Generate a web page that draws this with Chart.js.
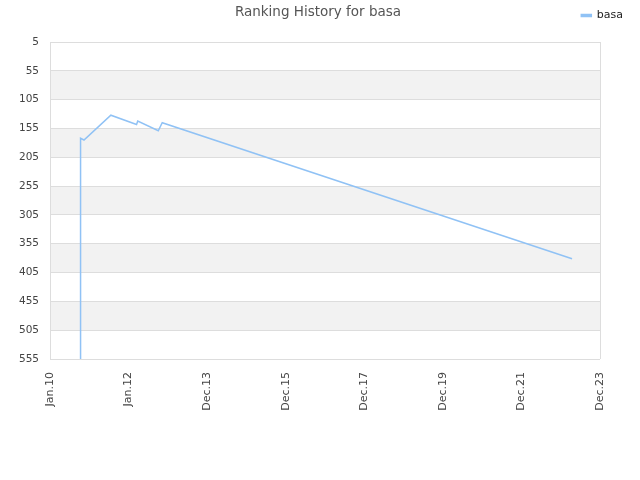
<!DOCTYPE html>
<html>
<head>
<meta charset="utf-8">
<script src="https://cdn.jsdelivr.net/npm/chart.js@4"></script>
<style>
  html, body { margin: 0; padding: 0; background: #fff; }
  #wrap { width: 640px; height: 480px; }
</style>
</head>
<body>
<div id="wrap"><canvas id="rankChart"></canvas></div>
<script>
const seriesName = 'basa';
// dates as decimal years, rank values
const years = [2010.76, 2010.76, 2010.78, 2010.78, 2010.86, 2011.54, 2012.19, 2012.22, 2012.74, 2012.84, 2023.21];
const ranks = [555, 218, 218, 172, 175, 132, 148, 142, 159, 145, 381];
const xTickLabels = ['Jan.10', 'Jan.12', 'Dec.13', 'Dec.15', 'Dec.17', 'Dec.19', 'Dec.21', 'Dec.23'];
const xMin = 2010.0, xMax = 2023.917;
const yMin = 5, yMax = 555, yStep = 50;

const bands = {
  id: 'bands',
  beforeDraw(chart) {
    const { ctx, chartArea: a, scales: { y } } = chart;
    ctx.save();
    ctx.fillStyle = '#f2f2f2';
    let i = 0;
    for (let v = yMin; v < yMax; v += yStep, i++) {
      if (i % 2 === 1) {
        const t = y.getPixelForValue(v), b = y.getPixelForValue(v + yStep);
        ctx.fillRect(a.left, t, a.right - a.left, b - t);
      }
    }
    ctx.restore();
  },
  afterDraw(chart) {
    const ctx = chart.ctx;
    ctx.save();
    ctx.fillStyle = '#555';
    ctx.font = '13.5px "DejaVu Sans"';
    ctx.textAlign = 'center';
    ctx.textBaseline = 'middle';
    ctx.fillText('Ranking History for ' + seriesName, 318, 12);
    ctx.restore();
  }
};

const ctx = document.getElementById('rankChart').getContext('2d');
const rankChart = new Chart(ctx, {
  type: 'line',
  data: {
    datasets: [{
      label: seriesName,
      data: years.map((x, i) => ({ x: x, y: ranks[i] })),
      borderColor: '#90c2f5',
      backgroundColor: '#90c2f5',
      borderWidth: 1.5,
      pointRadius: 0,
      fill: false,
      tension: 0,
      xAxisID: 'x',
      yAxisID: 'y'
    }]
  },
  options: {
    responsive: true,
    maintainAspectRatio: false,
    animation: false,
    layout: { padding: { top: 0, right: 7, bottom: 0, left: 0 } },
    plugins: {
      title: { display: false },
      tooltip: { enabled: false },
      legend: {
        position: 'top',
        align: 'end',
        labels: {
          boxWidth: 10,
          boxHeight: 2,
          padding: 10,
          color: '#222',
          font: { family: 'DejaVu Sans', size: 11 }
        }
      }
    },
    scales: {
      x: {
        type: 'linear',
        min: xMin,
        max: xMax,
        afterBuildTicks(axis) {
          axis.ticks = xTickLabels.map((_, i) => ({ value: xMin + i * (xMax - xMin) / (xTickLabels.length - 1) }));
        },
        afterFit(axis) { axis.height = 121; },
        ticks: {
          autoSkip: false,
          minRotation: 90,
          maxRotation: 90,
          padding: 13,
          color: '#444',
          font: { family: 'DejaVu Sans', size: 11 },
          callback: (v, i) => xTickLabels[i]
        },
        grid: {
          drawTicks: false,
          color: (c) => (c.index === 0 || c.index === xTickLabels.length - 1) ? '#dddddd' : 'rgba(0,0,0,0)'
        },
        border: { display: false }
      },
      xTop: {
        type: 'linear',
        position: 'top',
        display: true,
        afterFit(axis) { axis.height = 11; },
        ticks: { display: false },
        grid: { display: false },
        border: { display: false }
      },
      y: {
        reverse: true,
        min: yMin,
        max: yMax,
        afterBuildTicks(axis) {
          const t = [];
          for (let v = yMin; v <= yMax; v += yStep) t.push({ value: v });
          axis.ticks = t;
        },
        afterFit(axis) { axis.width = 50; },
        ticks: {
          padding: 11,
          color: '#444',
          font: { family: 'DejaVu Sans', size: 10.5 }
        },
        grid: { drawTicks: false, color: '#dddddd' },
        border: { display: false }
      },
      yRight: {
        position: 'right',
        display: true,
        afterFit(axis) { axis.width = 33; },
        ticks: { display: false },
        grid: { display: false },
        border: { display: false }
      }
    }
  },
  plugins: [bands]
});
</script>
</body>
</html>
